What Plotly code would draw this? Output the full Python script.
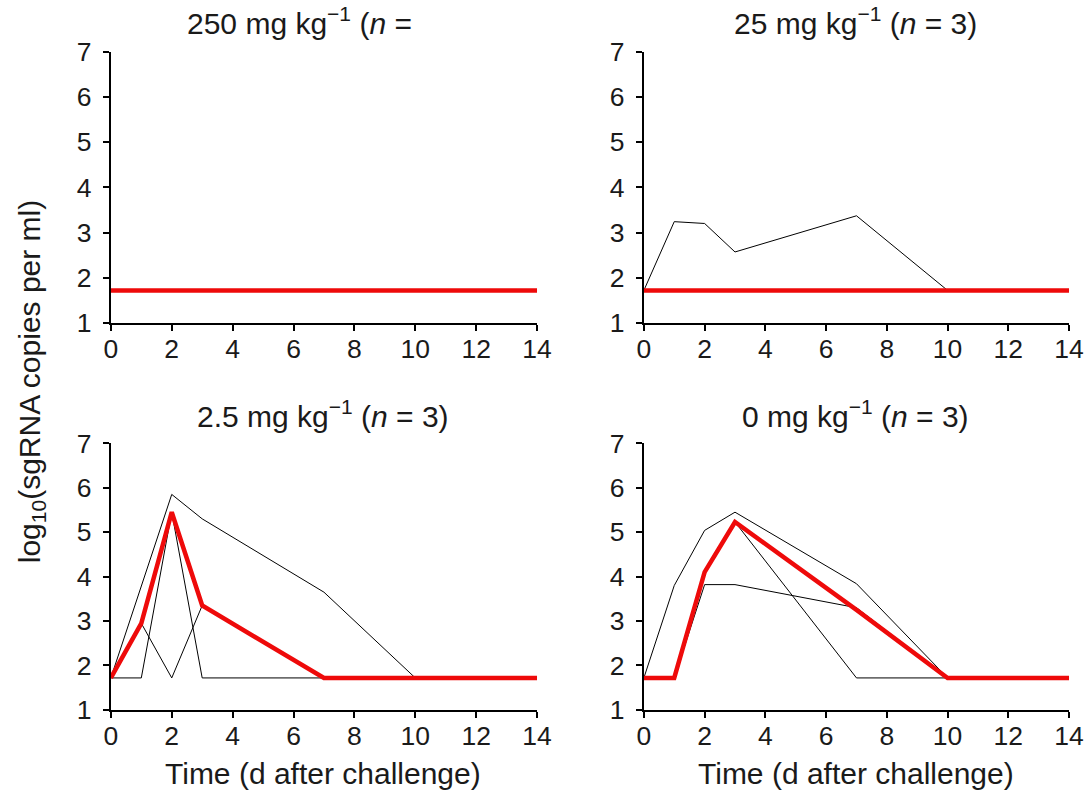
import plotly.graph_objects as go

days = [0, 1, 2, 3, 7, 10, 14]
LOD = 1.72

# 250 mg/kg
g250_a1 = [LOD, LOD, LOD, LOD, LOD, LOD, LOD]
g250_a2 = [LOD, LOD, LOD, LOD, LOD, LOD, LOD]
g250_a3 = [LOD, LOD, LOD, LOD, LOD, LOD, LOD]
g250_med = [LOD, LOD, LOD, LOD, LOD, LOD, LOD]

# 25 mg/kg
g25_a1 = [LOD, 3.24, 3.2, 2.57, 3.37, LOD, LOD]
g25_a2 = [LOD, LOD, LOD, LOD, LOD, LOD, LOD]
g25_a3 = [LOD, LOD, LOD, LOD, LOD, LOD, LOD]
g25_med = [LOD, LOD, LOD, LOD, LOD, LOD, LOD]

# 2.5 mg/kg
g2_a1 = [LOD, 3.76, 5.85, 5.3, 3.65, LOD, LOD]
g2_a2 = [LOD, 2.95, LOD, 3.35, LOD, LOD, LOD]
g2_a3 = [LOD, LOD, 5.45, LOD, LOD, LOD, LOD]
g2_med = [LOD, 2.95, 5.45, 3.35, LOD, LOD, LOD]

# 0 mg/kg
g0_a1 = [LOD, 3.8, 5.04, 5.45, 3.84, LOD, LOD]
g0_a2 = [LOD, LOD, 3.82, 3.82, 3.3, LOD, LOD]
g0_a3 = [LOD, LOD, 4.1, 5.23, LOD, LOD, LOD]
g0_med = [LOD, LOD, 4.1, 5.23, 3.25, LOD, LOD]

titles = ["250 mg kg<sup>\u22121</sup> (<i>n</i> =",
          "25 mg kg<sup>\u22121</sup> (<i>n</i> = 3)",
          "2.5 mg kg<sup>\u22121</sup> (<i>n</i> = 3)",
          "0 mg kg<sup>\u22121</sup> (<i>n</i> = 3)"]
x_ticks = [0, 2, 4, 6, 8, 10, 12, 14]
y_ticks = [1, 2, 3, 4, 5, 6, 7]
x_title = "Time (d after challenge)"
y_title = "log<sub>10</sub>(sgRNA copies per ml)"

W, H = 1089, 800
FONT = "Liberation Sans, Arial, Helvetica, sans-serif"
TXT = "#1a1a1a"

panels = [
    (g250_a1, g250_a2, g250_a3, g250_med),
    (g25_a1, g25_a2, g25_a3, g25_med),
    (g2_a1, g2_a2, g2_a3, g2_med),
    (g0_a1, g0_a2, g0_a3, g0_med),
]

# pixel boxes (left, right, top, bottom)
boxes = [(106, 541, 38, 320), (650, 1084, 38, 320),
         (106, 541, 445, 722), (650, 1084, 445, 722)]

fig = go.Figure()
for i, (a1, a2, a3, med) in enumerate(panels):
    suf = "" if i == 0 else str(i + 1)
    for a in (a1, a2, a3):
        fig.add_trace(go.Scatter(x=days, y=a, mode="lines",
                                 line=dict(color="black", width=1),
                                 xaxis="x" + suf, yaxis="y" + suf,
                                 showlegend=False, hoverinfo="skip"))
    fig.add_trace(go.Scatter(x=days, y=med, mode="lines",
                             line=dict(color="#ee0a0a", width=4.5),
                             xaxis="x" + suf, yaxis="y" + suf,
                             showlegend=False, hoverinfo="skip"))

axis_common = dict(showline=True, linecolor="black", linewidth=2,
                   ticks="outside", ticklen=6, tickwidth=2, tickcolor="black",
                   showgrid=False, zeroline=False,
                   tickfont=dict(family=FONT, size=26.5, color=TXT))
layout = {}
for i, (l, r, t, b) in enumerate(boxes):
    suf = "" if i == 0 else str(i + 1)
    layout["xaxis" + suf] = dict(axis_common, domain=[l / W, r / W],
                                 range=[0, 14], tickvals=x_ticks,
                                 anchor="y" + suf, ticklabelstandoff=-5)
    layout["yaxis" + suf] = dict(axis_common, domain=[1 - b / H, 1 - t / H],
                                 range=[1, 7], tickvals=y_ticks,
                                 anchor="x" + suf, ticklabelstandoff=6)

annotations = []
title_pos = [(182, 6, "left"), (866, 6, "center"), (323, 415, "center"), (866, 415, "center")]
for (x, y, anc), txt in zip(title_pos, titles):
    annotations.append(dict(text=txt, x=x / W, y=1 - y / H, xref="paper", yref="paper",
                            xanchor=anc, yanchor="middle", showarrow=False,
                            font=dict(family=FONT, size=30, color=TXT)))
for x in (323, 866):
    annotations.append(dict(text=x_title, x=x / W, y=1 - 788 / H, xref="paper", yref="paper",
                            xanchor="center", yanchor="middle", showarrow=False,
                            font=dict(family=FONT, size=30, color=TXT)))
annotations.append(dict(text=y_title, x=25 / W, y=1 - 380 / H, xref="paper", yref="paper",
                        xanchor="center", yanchor="middle", textangle=-90, showarrow=False,
                        font=dict(family=FONT, size=30, color=TXT)))

fig.update_layout(width=W, height=H, margin=dict(l=0, r=0, t=0, b=0),
                  paper_bgcolor="white", plot_bgcolor="white",
                  annotations=annotations, **layout)
fig.write_html("out.html")
